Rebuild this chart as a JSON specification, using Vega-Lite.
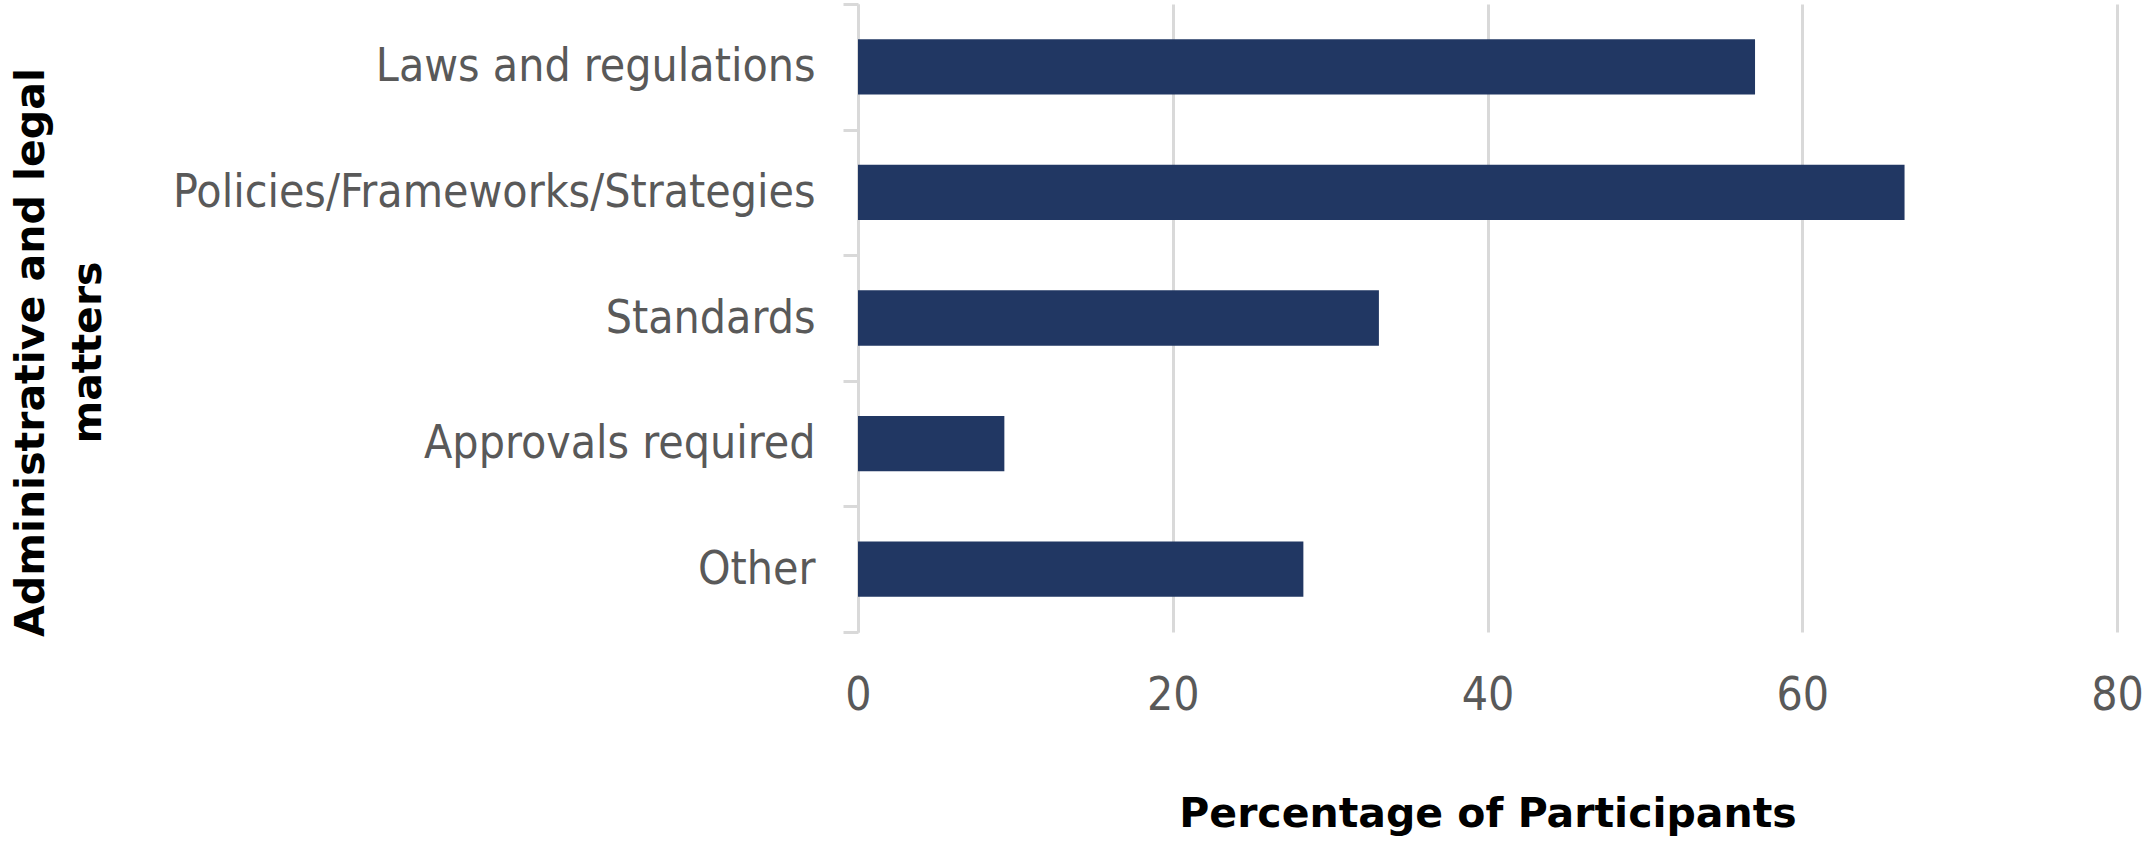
{
  "$schema": "https://vega.github.io/schema/vega-lite/v6.json",
  "autosize": "none",
  "padding": {"left": 858, "top": 4, "right": 27, "bottom": 211},
  "width": 1259,
  "height": 628,
  "data": {
    "values": [
      {"matter": "Laws and regulations", "pct": 57.0},
      {"matter": "Policies/Frameworks/Strategies", "pct": 66.5},
      {"matter": "Standards", "pct": 33.1},
      {"matter": "Approvals required", "pct": 9.3},
      {"matter": "Other ", "pct": 28.3}
    ]
  },
  "mark": {"type": "bar", "color": "#213763", "height": {"band": 0.44}},
  "encoding": {
    "y": {
      "field": "matter",
      "type": "nominal",
      "sort": null,
      "scale": {"paddingInner": 0, "paddingOuter": 0},
      "axis": {
        "title": ["Administrative and legal", "matters"],
        "titleFont": "DejaVu Sans",
        "titleFontWeight": "bold",
        "titleFontSize": 41,
        "titleColor": "#000000",
        "titleLineHeight": 57,
        "titleAngle": -90,
        "titleAlign": "center",
        "titleBaseline": "alphabetic",
        "titleX": -815,
        "titleY": 348,
        "domainColor": "#d9d9d9",
        "domainWidth": 3,
        "tickColor": "#d9d9d9",
        "tickWidth": 3,
        "tickSize": 15,
        "tickBand": "extent",
        "labelFont": "DejaVu Sans Condensed",
        "labelFontSize": 46,
        "labelColor": "#595959",
        "labelPadding": 28,
        "labelLimit": 1000,
        "grid": false
      }
    },
    "x": {
      "field": "pct",
      "type": "quantitative",
      "scale": {"domain": [0, 80], "nice": false},
      "axis": {
        "title": "Percentage of Participants",
        "titleFont": "DejaVu Sans",
        "titleFontWeight": "bold",
        "titleFontSize": 41,
        "titleColor": "#000000",
        "titleBaseline": "alphabetic",
        "titleX": 629.5,
        "titleY": 194,
        "values": [0, 20, 40, 60, 80],
        "domain": false,
        "ticks": false,
        "tickSize": 0,
        "grid": true,
        "gridColor": "#d9d9d9",
        "gridWidth": 3,
        "labelFont": "DejaVu Sans Condensed",
        "labelFontSize": 46,
        "labelColor": "#595959",
        "labelPadding": 41,
        "labelFlush": false
      }
    }
  },
  "config": {
    "view": {"stroke": null},
    "background": "#ffffff"
  }
}
